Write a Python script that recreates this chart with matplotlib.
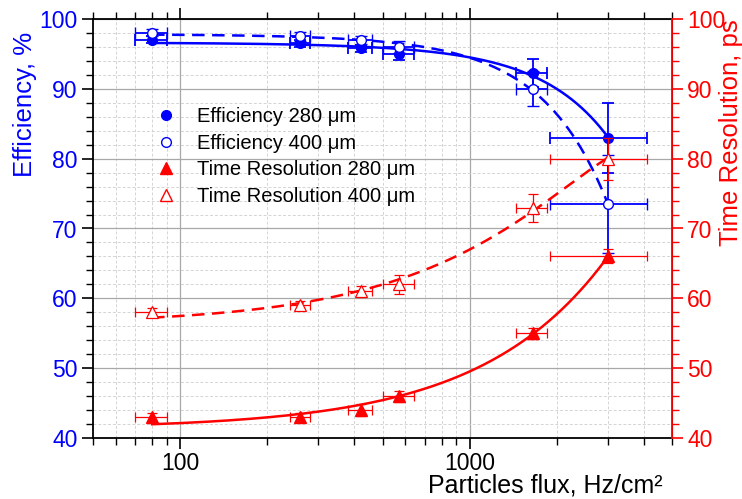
import numpy as np
import matplotlib
matplotlib.use("Agg")
import matplotlib.pyplot as plt
from matplotlib.lines import Line2D
from matplotlib.ticker import FixedLocator, NullFormatter, MultipleLocator, LogLocator, FuncFormatter

plt.rcParams['font.family'] = ['Liberation Sans', 'DejaVu Sans']

BLUE = '#0000ff'
RED = '#ff0000'

# Particle flux, Hz/cm^2, and its uncertainty
flux = [80, 260, 420, 570, 1650, 3000]
flux_err = [10, 20, 40, 70, 200, 1100]

# Efficiency, %
eff_280 = [97.0, 96.5, 95.8, 95.0, 92.3, 83.0]
eff_280_err = [0.5, 0.5, 0.5, 0.8, 2.0, 5.0]
eff_400 = [98.0, 97.5, 97.0, 96.0, 90.0, 73.5]
eff_400_err = [0.5, 0.6, 0.6, 0.8, 2.5, 7.0]

# Time resolution, ps
tr_280 = [43.0, 43.0, 44.0, 46.0, 55.0, 66.0]
tr_280_err = [0.6, 0.6, 0.8, 0.8, 0.8, 1.0]
tr_400 = [58.0, 59.0, 61.0, 62.0, 73.0, 80.0]
tr_400_err = [0.6, 0.6, 0.8, 1.4, 2.0, 3.0]

W, H = 742, 499
fig = plt.figure(figsize=(W / 100, H / 100), dpi=100)
ax = fig.add_axes([93 / W, 1 - 438 / H, (672 - 93) / W, (438 - 19) / H])
ax2 = ax.twinx()

ax.set_xscale('log')
ax.set_xlim(50, 5000)
ax.set_ylim(40, 100)
ax2.set_ylim(40, 100)

x = np.array(flux, dtype=float)
xs = np.linspace(80, 3000, 400)


def fit_curve(y, deg):
    c = np.polyfit(x, np.array(y, dtype=float), deg)
    return np.polyval(c, xs)


# ticks and grid
ax.xaxis.set_major_locator(FixedLocator([100, 1000]))
ax.xaxis.set_minor_locator(LogLocator(base=10, subs=np.arange(2, 10) * 1.0))
ax.xaxis.set_minor_formatter(NullFormatter())
ax.xaxis.set_major_formatter(FuncFormatter(lambda v, p: f"{int(v)}"))
for a in (ax, ax2):
    a.yaxis.set_major_locator(MultipleLocator(10))
    a.yaxis.set_minor_locator(MultipleLocator(2))
ax.grid(True, which='major', color='#a8a8a8', lw=0.9, ls='-')
ax.grid(True, which='minor', color='#d4d4d4', lw=0.7, ls=(0, (3, 2)))
ax.set_axisbelow(True)

# efficiency
ax.plot(xs, fit_curve(eff_280, 2), color=BLUE, lw=1.8, zorder=3)
ax.plot(xs, fit_curve(eff_400, 2), color=BLUE, lw=1.8, ls=(0, (5, 3)), zorder=3)
ax.errorbar(flux, eff_280, xerr=flux_err, yerr=eff_280_err, fmt='o', color=BLUE,
            ms=7, mfc=BLUE, mec=BLUE, elinewidth=1.3, capsize=4, capthick=1.3, zorder=4)
ax.errorbar(flux, eff_400, xerr=flux_err, yerr=eff_400_err, fmt='o', color=BLUE,
            ms=7, mfc='white', mec=BLUE, mew=1.0, elinewidth=1.3, capsize=4, capthick=1.3, zorder=4)

# time resolution
ax2.plot(xs, fit_curve(tr_280, 1), color=RED, lw=1.8, zorder=3)
ax2.plot(xs, fit_curve(tr_400, 2), color=RED, lw=1.8, ls=(0, (5, 3)), zorder=3)
ax2.errorbar(flux, tr_280, xerr=flux_err, yerr=tr_280_err, fmt='^', color=RED,
             ms=8, mfc=RED, mec=RED, elinewidth=0.9, capsize=3.5, capthick=0.9, zorder=4)
ax2.errorbar(flux, tr_400, xerr=flux_err, yerr=tr_400_err, fmt='^', color=RED,
             ms=8, mfc='white', mec=RED, mew=0.9, elinewidth=0.9, capsize=3.5, capthick=0.9, zorder=4)

# axes styling
for s in ('left', 'bottom', 'top'):
    ax.spines[s].set_color('black')
    ax.spines[s].set_linewidth(1.3)
ax2.spines['right'].set_color(RED)
ax2.spines['right'].set_linewidth(1.3)
for s in ('left', 'bottom', 'top'):
    ax2.spines[s].set_visible(False)

ax.tick_params(axis='x', which='both', direction='out', top=True, labelsize=16.5, pad=2)
ax.tick_params(axis='x', which='major', length=8, width=1.2)
ax.tick_params(axis='x', which='minor', length=5, width=1.0)
ax.tick_params(axis='y', which='both', direction='out', colors='black', labelcolor=BLUE,
               labelsize=16.5, pad=3)
ax.tick_params(axis='y', which='major', length=8, width=1.2)
ax.tick_params(axis='y', which='minor', length=5, width=1.0)
ax2.tick_params(axis='y', which='both', direction='out', colors=RED, labelcolor=RED,
                labelsize=16.5, pad=3)
ax2.tick_params(axis='y', which='major', length=8, width=1.2)
ax2.tick_params(axis='y', which='minor', length=5, width=1.0)

ax.set_xlabel('Particles flux, Hz/cm\u00b2', fontsize=18, va='bottom')
ax.xaxis.set_label_coords(0.782, (438 - 498) / 419)
ax.set_ylabel('Efficiency, %', fontsize=18.5, color=BLUE)
ax.yaxis.set_label_coords(-0.097, 0.797)
ax2.set_ylabel('Time Resolution, ps', fontsize=18.5, color=RED, rotation=90)
ax2.yaxis.set_label_coords(1.082, 0.728)

handles = [
    Line2D([], [], ls='none', marker='o', ms=7, mfc=BLUE, mec=BLUE),
    Line2D([], [], ls='none', marker='o', ms=7, mfc='white', mec=BLUE),
    Line2D([], [], ls='none', marker='^', ms=8, mfc=RED, mec=RED),
    Line2D([], [], ls='none', marker='^', ms=8, mfc='white', mec=RED),
]
labels = ['Efficiency 280 \u03bcm', 'Efficiency 400 \u03bcm',
          'Time Resolution 280 \u03bcm', 'Time Resolution 400 \u03bcm']
leg = ax.legend(handles, labels, loc='upper left', bbox_to_anchor=(0.095, 0.8085),
                frameon=False, fontsize=14.5, handlelength=1.0, handletextpad=1.05,
                labelspacing=0.375, borderaxespad=0)
leg.set_zorder(10)

fig.savefig('out.png', dpi=100)
